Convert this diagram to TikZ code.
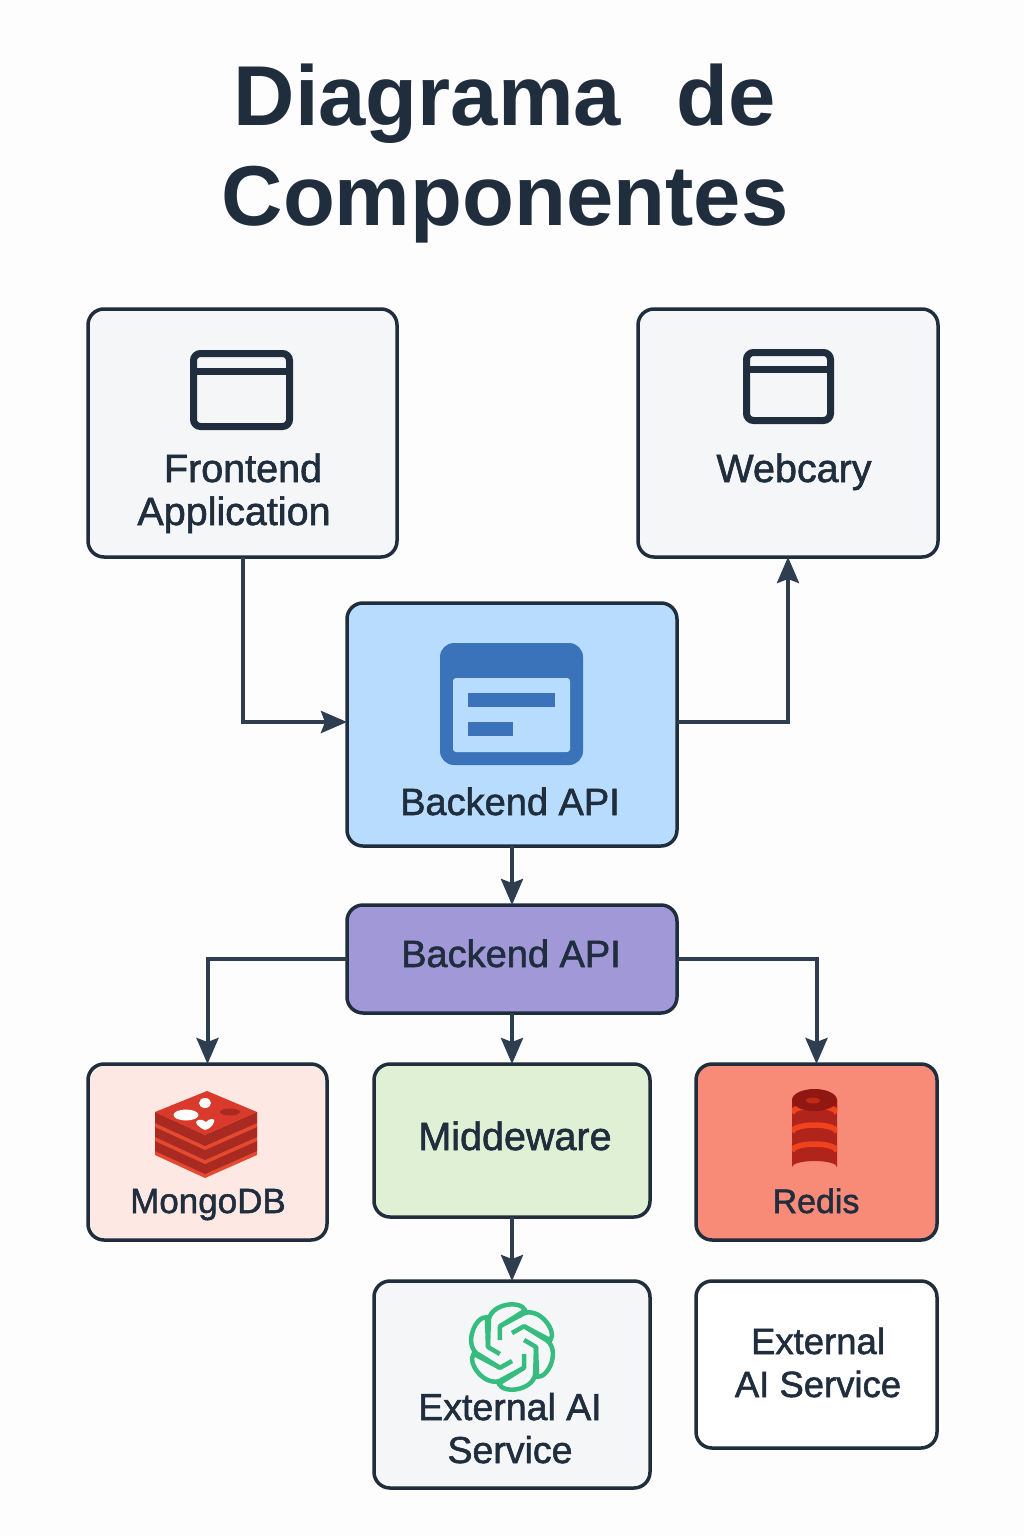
\documentclass[tikz,border=0pt]{standalone}
\usepackage{fontspec}
\setmainfont{Liberation Sans}
\newfontfamily\tagfont{Liberation Sans}[FakeBold=1.5]
\usetikzlibrary{arrows.meta}
\definecolor{pagebg}{HTML}{FDFDFD}
\definecolor{inkdark}{HTML}{1F2D3D}
\definecolor{wirecol}{HTML}{2F3D50}
\definecolor{greybox}{HTML}{F4F6F8}
\definecolor{bluebox}{HTML}{B8DCFD}
\definecolor{blueicon}{HTML}{3B73BA}
\definecolor{purplebox}{HTML}{A198D8}
\definecolor{pinkbox}{HTML}{FDE8E3}
\definecolor{greenbox}{HTML}{E0F0D4}
\definecolor{redbox}{HTML}{F88A78}
\definecolor{knotgreen}{HTML}{35BC7E}
\definecolor{stackface}{HTML}{D93A2B}
\definecolor{stackside}{HTML}{A82A20}
\definecolor{stackedge}{HTML}{E5492F}
\definecolor{drumtop}{HTML}{A01A14}
\definecolor{drumbody}{HTML}{B0241C}
\definecolor{drumband}{HTML}{F0421C}
\tikzset{
  compbox/.style={draw=inkdark, line width=3.5pt, rounded corners=16pt, inner sep=0pt, outer sep=0pt},
  wire/.style={draw=wirecol, line width=4pt, -{Stealth[length=26pt,width=22pt,inset=4pt]}},
  tagsize/.style={font=\tagfont\fontsize{#1}{43}\selectfont},
  tag/.style={text=inkdark, anchor=base, align=center, inner sep=0pt, tagsize=38},
  winicon/.style={draw=inkdark, line width=7pt, rounded corners=7pt}
}
\begin{document}
\begin{tikzpicture}[x=1pt, y=-1pt]
  \useasboundingbox (0,0) rectangle (1024,1536);
  \fill[pagebg] (0,0) rectangle (1024,1536);

  \node[text=inkdark, align=center, inner sep=0pt, anchor=base,
    font=\fontsize{85}{100}\selectfont\bfseries] (title) at (505,225) {Diagrama\hspace{56pt}de\\Componentes};

  % boxes
  \node[compbox, fill=greybox, minimum width=309pt, minimum height=248pt] (frontend) at (242.5,433) {};
  \node[compbox, fill=greybox, minimum width=300pt, minimum height=248pt] (webcary) at (788,433) {};
  \node[compbox, fill=bluebox, minimum width=330pt, minimum height=243pt] (api) at (512,724.5) {};
  \node[compbox, fill=purplebox, minimum width=330pt, minimum height=108pt] (gateway) at (512,959) {};
  \node[compbox, fill=pinkbox, minimum width=239pt, minimum height=176pt] (mongo) at (207.5,1152) {};
  \node[compbox, fill=greenbox, minimum width=276pt, minimum height=153pt] (middleware) at (512,1140.5) {};
  \node[compbox, fill=redbox, minimum width=241pt, minimum height=176pt] (redis) at (816.5,1152) {};
  \node[compbox, fill=greybox, minimum width=276pt, minimum height=207pt] (aibox) at (512,1384.5) {};
  \node[compbox, fill=white, minimum width=241pt, minimum height=167pt] (aiplain) at (816.5,1364.5) {};

  % connectors
  \draw[wire] (frontend.south) |- ([yshift=2.5pt]api.west);
  \draw[wire] ([yshift=2.5pt]api.east) -| (webcary.south);
  \draw[wire] (api.south) -- (gateway.north);
  \draw[wire] (gateway.west) -| (mongo.north);
  \draw[wire] (gateway.south) -- (middleware.north);
  \draw[wire] (gateway.east) -| (redis.north);
  \draw[wire] (middleware.south) -- (aibox.north);

  % labels
  \node[tag, tagsize=39.5] (frontendtxt) at (234,525) {\hspace*{18pt}Frontend\\Application};
  \node[tag, tagsize=39.5] (webcarytxt) at (794,482) {Webcary};
  \node[tag] (apitxt) at (510,815) {Backend API};
  \node[tag] (gatewaytxt) at (511,967) {Backend API};
  \node[tag, tagsize=35] (mongotxt) at (208,1213) {MongoDB};
  \node[tag, tagsize=39.5] (middlewaretxt) at (515,1150) {Middeware};
  \node[tag, tagsize=34] (redistxt) at (816,1213) {Redis};
  \node[tag, tagsize=37.5] (aiboxtxt) at (510,1463) {External AI\\Service};
  \node[tag, tagsize=36.5] (aiplaintxt) at (818,1397) {External\\AI Service};

  % window icons
  \draw[winicon] (193.5,353.5) rectangle (289.5,426.5);
  \draw[inkdark, line width=7pt] (193.5,371) -- (289.5,371);
  \draw[winicon] (746.5,352.5) rectangle (830.5,420.5);
  \draw[inkdark, line width=7pt] (746.5,369) -- (830.5,369);

  % api icon
  \fill[blueicon, rounded corners=14pt] (440,643) rectangle (583,765);
  \fill[bluebox, rounded corners=3pt] (453,678) rectangle (570,752);
  \fill[blueicon] (468,693) rectangle (555,707);
  \fill[blueicon] (468,722) rectangle (513,736);

  % stack icon
  \foreach \dy in {28,14,0} {
    \fill[stackedge] (155,1112+\dy) -- (205,1135+\dy) -- (257,1112+\dy) -- (257,1127+\dy) -- (205,1150+\dy) -- (155,1127+\dy) -- cycle;
    \fill[stackside] (155,1112+\dy) -- (205,1135+\dy) -- (257,1112+\dy) -- (257,1123+\dy) -- (205,1146+\dy) -- (155,1123+\dy) -- cycle;
  }
  \fill[stackface] (207,1091) -- (257,1112) -- (205,1135) -- (155,1112) -- cycle;
  \fill[white] (186,1115) ellipse (12.5pt and 5.5pt);
  \fill[white] (205,1103) ellipse (6pt and 5pt);
  \fill[white] (205,1130) .. controls (198,1127) and (193,1122) .. (198,1120) .. controls (201,1119) and (204,1120) .. (206,1122) .. controls (209,1118) and (216,1118) .. (214,1122) .. controls (213,1126) and (209,1129) .. (205,1130) -- cycle;
  \fill[stackside] (230,1112) ellipse (10pt and 3.5pt);

  % drum icon
  \begin{scope}
    \clip (792,1100) -- (792,1167) arc[start angle=180, end angle=360, x radius=22.5pt, y radius=-6pt] -- (837,1100) -- cycle;
    \fill[drumbody] (790,1085) rectangle (839,1175);
    \fill[drumtop] (792,1100) -- (792,1110) arc[start angle=180, end angle=360, x radius=22.5pt, y radius=-8pt] -- (837,1100) -- cycle;
    \foreach \by in {1113,1132,1151} {
      \draw[drumband, line width=5.5pt] (792,\by) arc[start angle=180, end angle=360, x radius=22.5pt, y radius=-7pt];
    }
  \end{scope}
  \fill[drumtop!90!black] (814.5,1100) ellipse (22.5pt and 11pt);
  \fill[drumtop!60!drumband] (813,1100.5) ellipse (7pt and 3pt);

  % knot icon
  \begin{scope}[shift={(512,1347)}, y=1pt]
    \foreach \a in {0,60,...,300} {
      \draw[knotgreen, line width=4.5pt, line join=round, rotate=\a]
        (150:14pt) -- (120:24pt) -- (70:36pt) .. controls (55:48pt) and (20:48pt) .. (10:39pt) -- (60:24pt);
    }
  \end{scope}
\end{tikzpicture}
\end{document}
